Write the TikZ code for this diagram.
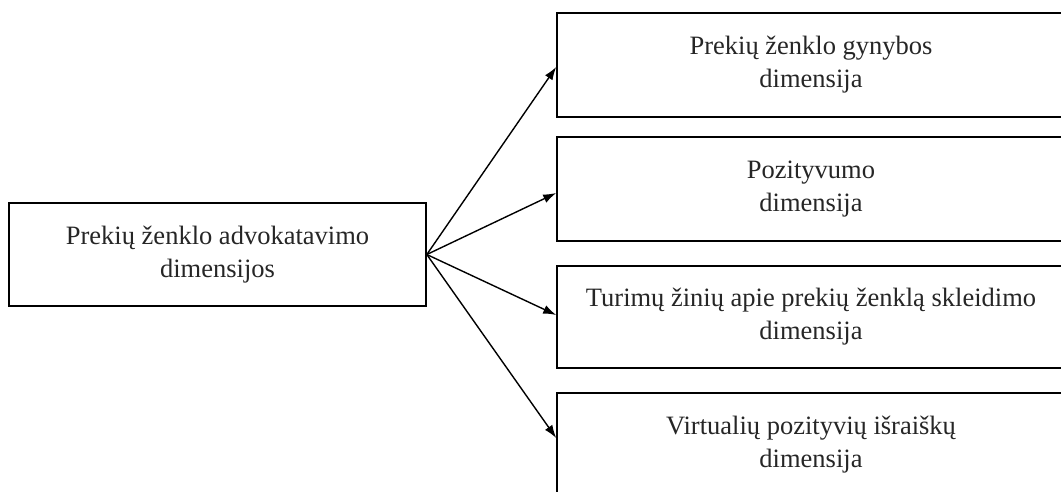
\documentclass[tikz,border=0pt]{standalone}
\usepackage{fontspec}
\setmainfont{Liberation Serif}
\usetikzlibrary{arrows.meta}
\begin{document}
\begin{tikzpicture}[x=1pt,y=-1pt,
  box/.style={draw, line width=1.6pt, rectangle, inner sep=0pt,
    align=center, font=\fontsize{26.5}{33}\selectfont, text=black!85},
  link/.style={line width=1.4pt, -{Latex[length=13pt,width=9pt]}}]
\useasboundingbox (0,0) rectangle (1061,491);
\clip (0,0) rectangle (1061,491);
% source box
\node[box, minimum width=417pt, minimum height=103pt] (src) at (217.5,254.5)
  {Prekių ženklo advokatavimo\\dimensijos};
% the four dimensions
\node[box, minimum width=508pt, minimum height=104pt] (d1) at (811,65)
  {Prekių ženklo gynybos\\dimensija};
\node[box, minimum width=508pt, minimum height=104pt] (d2) at (811,189)
  {Pozityvumo\\dimensija};
\node[box, minimum width=508pt, minimum height=102pt] (d3) at (811,317)
  {Turimų žinių apie prekių ženklą skleidimo\\dimensija};
\node[box, minimum width=508pt, minimum height=104pt] (d4) at (811,445)
  {Virtualių pozityvių išraiškų\\dimensija};
% connectors
\draw[link] (src.east) -- ([yshift=-2pt]d1.west);
\draw[link] (src.east) -- ([yshift=-4pt]d2.west);
\draw[link] (src.east) -- ([yshift=2pt]d3.west);
\draw[link] (src.east) -- ([yshift=7pt]d4.west);
\end{tikzpicture}
\end{document}
